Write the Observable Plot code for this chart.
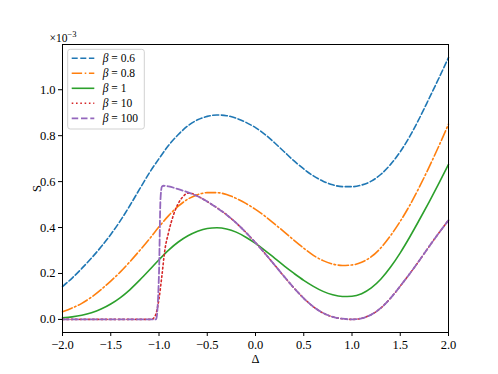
<!DOCTYPE html>
<html>
<head>
<meta charset="utf-8">
<script src="https://cdn.jsdelivr.net/npm/d3@7"></script>
<script src="https://cdn.jsdelivr.net/npm/@observablehq/plot@0.6"></script>
<style>
  html, body { margin: 0; padding: 0; background: #fff; }
  svg { display: block; }
  svg, svg text { font-family: "Liberation Serif", "DejaVu Serif", serif !important; }
</style>
</head>
<body>
<div id="chart"></div>
<script>
// ---- data (S in units of 1e-3) ----
const delta = [-2.0,-1.9,-1.8,-1.7,-1.6,-1.5,-1.4,-1.3,-1.2,-1.1,-1.0,-0.9,-0.8,-0.7,-0.6,-0.5,-0.4,-0.3,-0.2,-0.1,0.0,
               0.1,0.2,0.3,0.4,0.5,0.6,0.7,0.8,0.9,1.0,1.1,1.2,1.3,1.4,1.5,1.6,1.7,1.8,1.9,2.0];
const s06 = [0.143,0.180,0.222,0.267,0.316,0.370,0.430,0.497,0.568,0.638,0.700,0.758,0.805,0.843,0.869,0.884,0.890,0.887,0.876,0.858,0.835,
             0.805,0.768,0.729,0.690,0.655,0.625,0.602,0.586,0.578,0.578,0.585,0.602,0.632,0.675,0.730,0.798,0.877,0.963,1.050,1.140];
const s08 = [0.033,0.050,0.070,0.097,0.130,0.167,0.207,0.252,0.300,0.350,0.403,0.452,0.493,0.524,0.543,0.552,0.552,0.544,0.527,0.505,0.479,
             0.449,0.415,0.380,0.344,0.310,0.279,0.256,0.241,0.235,0.237,0.249,0.273,0.312,0.365,0.427,0.498,0.578,0.664,0.755,0.850];
const s1  = [0.007,0.011,0.018,0.029,0.045,0.067,0.095,0.130,0.171,0.215,0.260,0.302,0.337,0.364,0.384,0.396,0.399,0.394,0.380,0.358,0.331,
             0.300,0.266,0.232,0.200,0.170,0.144,0.122,0.107,0.100,0.101,0.112,0.137,0.176,0.228,0.290,0.360,0.435,0.512,0.592,0.675];
const s10 = [0,0,0,0,0,0,0,0,0,0,0.090,0.380,0.505,0.550,0.537,0.513,0.486,0.456,0.420,0.379,0.334,
             0.286,0.236,0.185,0.136,0.092,0.055,0.028,0.011,0.003,0.000,0.005,0.021,0.050,0.093,0.145,0.200,0.258,0.318,0.376,0.432];
const s100 = [0,0,0,0,0,0,0,0,0,0,0.200,0.579,0.567,0.553,0.536,0.513,0.486,0.456,0.420,0.379,0.334,
              0.286,0.236,0.185,0.136,0.092,0.055,0.028,0.011,0.003,0.000,0.005,0.021,0.050,0.093,0.145,0.200,0.258,0.318,0.376,0.432];
// extra samples around the step at Delta = -1
const delta10x = [-1.08,-1.04,-0.97,-0.94,-0.85,-0.75,-0.65];
const s10x     = [0,0.015,0.190,0.300,0.455,0.535,0.547];
const delta100x = [-1.03,-0.985,-0.97,-0.95];
const s100x     = [0,0.520,0.578,0.582];

const betaLabels = ["0.6","0.8","1","10","100"];
const xTicks = [-2.0,-1.5,-1.0,-0.5,0.0,0.5,1.0,1.5,2.0];
const yTicks = [0.0,0.2,0.4,0.6,0.8,1.0];

// ---- build series ----
function series(xs, ys, ex, ey) {
  const rows = xs.map((x, i) => ({x, y: ys[i]}));
  if (ex) ex.forEach((x, i) => rows.push({x, y: ey[i]}));
  rows.sort((a, b) => a.x - b.x);
  return rows;
}
const data = [
  series(delta, s06),
  series(delta, s08),
  series(delta, s1),
  series(delta, s10, delta10x, s10x),
  series(delta, s100, delta100x, s100x)
];
const styles = [
  {stroke: "#1f77b4", dash: "6,2.6", width: 1.6},
  {stroke: "#ff7f0e", dash: "10.4,2.6,1.6,2.6", width: 1.6},
  {stroke: "#2ca02c", dash: null, width: 1.6},
  {stroke: "#d62728", dash: "1.6,2.7", width: 1.6},
  {stroke: "#9467bd", dash: "6.5,2.8", width: 1.8}
];

const marks = data.map((rows, i) => Plot.line(rows, {
  x: "x", y: "y", stroke: styles[i].stroke, strokeWidth: styles[i].width,
  strokeDasharray: styles[i].dash || undefined, curve: "monotone-x"
}));

const chart = Plot.plot({
  width: 498, height: 374,
  marginLeft: 62, marginRight: 50, marginTop: 44, marginBottom: 42,
  style: {fontFamily: "Liberation Serif, serif", fontSize: "10.5px", color: "#000", background: "#fff"},
  x: {domain: [-2, 2]},
  y: {domain: [-0.057, 1.197]},
  marks: [
    ...marks,
    Plot.frame({stroke: "#000", strokeWidth: 1}),
    Plot.axisX({ticks: xTicks, tickFormat: ".1f", tickSize: 4, tickPadding: 4,
      label: "Δ", labelAnchor: "center", labelArrow: "none", labelOffset: 30, fontSize: 12.5}),
    Plot.axisY({ticks: yTicks, tickFormat: ".1f", tickSize: 4, tickPadding: 3,
      label: "S", labelAnchor: "center", labelArrow: "none", labelOffset: 30, fontSize: 12.5})
  ]
});
document.getElementById("chart").appendChild(chart);

// ---- offset text and legend ----
const svg = d3.select(chart);
const off = svg.append("text").attr("x", 63).attr("y", 41.5).attr("font-size", 11.5);
off.append("tspan").text("×10");
off.append("tspan").attr("dy", -4.5).attr("font-size", 8.5).text("−3");

const lg = svg.append("g").attr("font-size", 11.5);
lg.append("rect").attr("x", 67.7).attr("y", 49.3).attr("width", 76.6).attr("height", 79.7)
  .attr("rx", 2.5).attr("fill", "#fff").attr("fill-opacity", 0.8).attr("stroke", "#cccccc").attr("stroke-width", 0.9);
betaLabels.forEach((b, i) => {
  const y = 58.3 + 15 * i;
  const st = styles[i];
  lg.append("line").attr("x1", 71.7).attr("x2", 94.3).attr("y1", y).attr("y2", y)
    .attr("stroke", st.stroke).attr("stroke-width", st.width)
    .attr("stroke-dasharray", st.dash || null);
  const t = lg.append("text").attr("x", 102.7).attr("y", y).attr("dy", "0.35em").attr("text-anchor", "start")
    .attr("xml:space", "preserve").style("white-space", "pre");
  t.append("tspan").attr("font-style", "italic").text("β");
  t.append("tspan").text(" = " + b);
});
</script>
</body>
</html>
